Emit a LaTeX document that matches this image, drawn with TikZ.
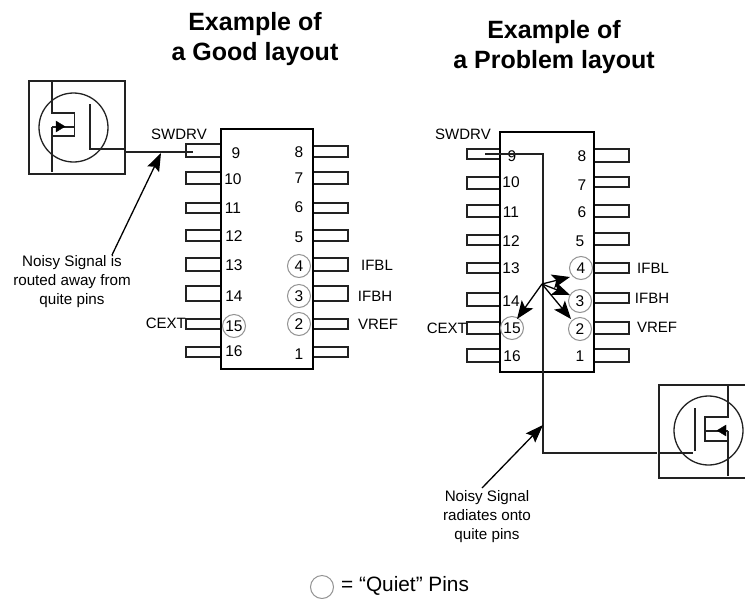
\documentclass[tikz,border=0pt]{standalone}
\usepackage{fontspec}
\setmainfont{Liberation Sans}
\usetikzlibrary{arrows.meta}
\definecolor{ink}{HTML}{222222}
\tikzset{
 wire/.style={draw=ink,line width=1.3pt},
 chipbox/.style={draw=black,line width=2.4pt,line join=miter},
 pinbox/.style={draw=ink,line width=1.3pt},
 quiet/.style={circle,draw=gray!85,line width=1pt,minimum size=23pt,inner sep=0pt,font=\fontsize{15.5}{16}\selectfont},
 num/.style={font=\fontsize{15.5}{16}\selectfont,inner sep=0pt},
 lab/.style={font=\fontsize{15}{16}\selectfont,inner sep=0pt},
 note/.style={font=\fontsize{15.2}{19}\selectfont,align=center,inner sep=0pt},
 heading/.style={font=\bfseries\fontsize{25}{30.5}\selectfont,align=center,inner sep=0pt},
 pointer/.style={draw=black,line width=1.3pt,-{Stealth[length=18pt,width=13pt,inset=3pt]}},
 fan/.style={draw=black,line width=1.3pt,-{Stealth[length=18pt,width=14pt,inset=4pt]}},
 triangle/.style={fill=black,draw=black,line width=.3pt},
}
\newcommand{\pinrect}[4]{\draw[pinbox] (#1,#3) rectangle (#2,#4);}
\begin{document}
\begin{tikzpicture}[x=1pt,y=-1pt]
\useasboundingbox (0,0) rectangle (745,598);
\clip (0,0) rectangle (745,598);
% titles
\node[heading] (t1) at (255,39) {Example of\\a Good layout};
\node[heading] (t2) at (554,47) {Example of\\a Problem layout};
% left chip
\foreach \a/\b in {144/157,172/184,203/213,230/241,258/271,286/301,319/329,347/357}
  \pinrect{186}{221}{\a}{\b}
\foreach \a/\b in {146/157,172/184,203/213,230/241,258/271,286/301,319/329,347/357}
  \pinrect{313}{348}{\a}{\b}
\draw[chipbox,fill=white] (221,129) rectangle (313,369);
\foreach \n/\x/\y in {9/236/153,10/233/179,11/233/208,12/234/236,13/234/265,14/234/296,16/234/351,
  8/299/152,7/299/178,6/299/207,5/299/237,1/299/354}
  \node[num] (L\n) at (\x,\y) {\n};
\node[quiet] (L4) at (299,266) {4};
\node[quiet] (L3) at (299,296) {3};
\node[quiet] (L2) at (299,324) {2};
\node[quiet] (L15) at (234,326) {15};
% right chip
\foreach \a/\b in {149/159,177/189,205/217,235/245,263/273,293/306,322/334,349/362}
  \pinrect{467}{500}{\a}{\b}
\foreach \a/\b in {149/162,177/187,205/217,233/245,263/273,293/303,322/334,349/362}
  \pinrect{594}{629}{\a}{\b}
\draw[chipbox,fill=white] (500,132) rectangle (594,372);
\foreach \n/\x/\y in {10/511/182,11/511/212,12/511/241,13/511/268,14/511/301,16/512/356,
  8/582/156,7/582/185,6/582/212,5/580/241,1/580/356}
  \node[num] (R\n) at (\x,\y) {\n};
\node[num] (R9) at (512,156) {9};
\node[quiet] (R4) at (581,268) {4};
\node[quiet] (R3) at (580,301) {3};
\node[quiet] (R2) at (580,329) {2};
\node[quiet] (R15) at (512,328) {15};
% labels
\node[lab] (swl) at (179,134) {SWDRV};
\node[lab] (swr) at (463,134) {SWDRV};
\node[lab,anchor=east] (cl) at (186,323) {CEXT};
\node[lab,anchor=east] (cr) at (467,328) {CEXT};
\node[lab] (a1) at (377,265) {IFBL};
\node[lab] (a2) at (375,296) {IFBH};
\node[lab] (a3) at (378,324) {VREF};
\node[lab] (b1) at (653,268) {IFBL};
\node[lab] (b2) at (652,298) {IFBH};
\node[lab] (b3) at (657,327) {VREF};
% left transistor
\draw[wire] (29,81) rectangle (125,174);
\draw[wire] (73.5,127.5) circle (34.5);
\coordinate (lsTop) at (52,81); \coordinate (lsBot) at (52,172);
\draw[wire] (lsTop) -- (52,113) -- (74.5,113) -- (74.5,136) -- (52,136);
\draw[wire] (52,127) -- (74.5,127);
\draw[wire] (52,127) -- (lsBot);
\draw[triangle] (65,126.5) -- (56,121) -- (56,132) -- cycle;
\coordinate (lg1) at (90,104); \coordinate (lg2) at (125,149);
\draw[wire] (lg1) -- (90,149) -- (lg2);
\coordinate (lw1) at (126,152); \coordinate (lw2) at (193,152);
\draw[wire] (lw1) -- (lw2);
% right transistor
\draw[wire] (745,385) -- (659,385) -- (659,478) -- (745,478);
\draw[wire] (708.5,430.5) circle (34.5);
\coordinate (rsTop) at (728,385); \coordinate (rsBot) at (728,476);
\draw[wire] (rsTop) -- (728,417) -- (705,417) -- (705,441) -- (728,441);
\draw[wire] (705,431) -- (728,431);
\draw[wire] (728,431) -- (rsBot);
\draw[triangle] (717,430.5) -- (726,425) -- (726,436) -- cycle;
\coordinate (rg1) at (695,408); \coordinate (rg2) at (659,453);
\draw[wire] (rg1) -- (695,451) (693,453) -- (rg2);
\coordinate (rw1) at (485,154); \coordinate (rw2) at (657,453);
\draw[wire] (rw1) -- (543,154) -- (543,453) -- (rw2);
% notes
\node[note] (n1) at (72,282) {Noisy Signal is\\routed away from\\quite pins};
\node[note] (n2) at (487,517) {Noisy Signal\\radiates onto\\quite pins};
% pointers
\coordinate (p1) at (161,153); \coordinate (p1t) at (112,255);
\draw[pointer] (p1t) -- (p1);
\coordinate (p2) at (543,425); \coordinate (p2t) at (482,488);
\draw[pointer] (p2t) -- (p2);
\coordinate (hub) at (542,284);
\draw[fan] (hub) -- (570,277);
\draw[fan] (hub) -- (570,295);
\draw[fan] (hub) -- (571,319);
\draw[fan] (hub) -- (517,319);
% legend
\node[quiet] (q) at (322,587) {};
\node[font=\fontsize{20.8}{24}\selectfont,inner sep=0pt,anchor=west] (qt) at (341,586) {= “Quiet” Pins};
\end{tikzpicture}
\end{document}
